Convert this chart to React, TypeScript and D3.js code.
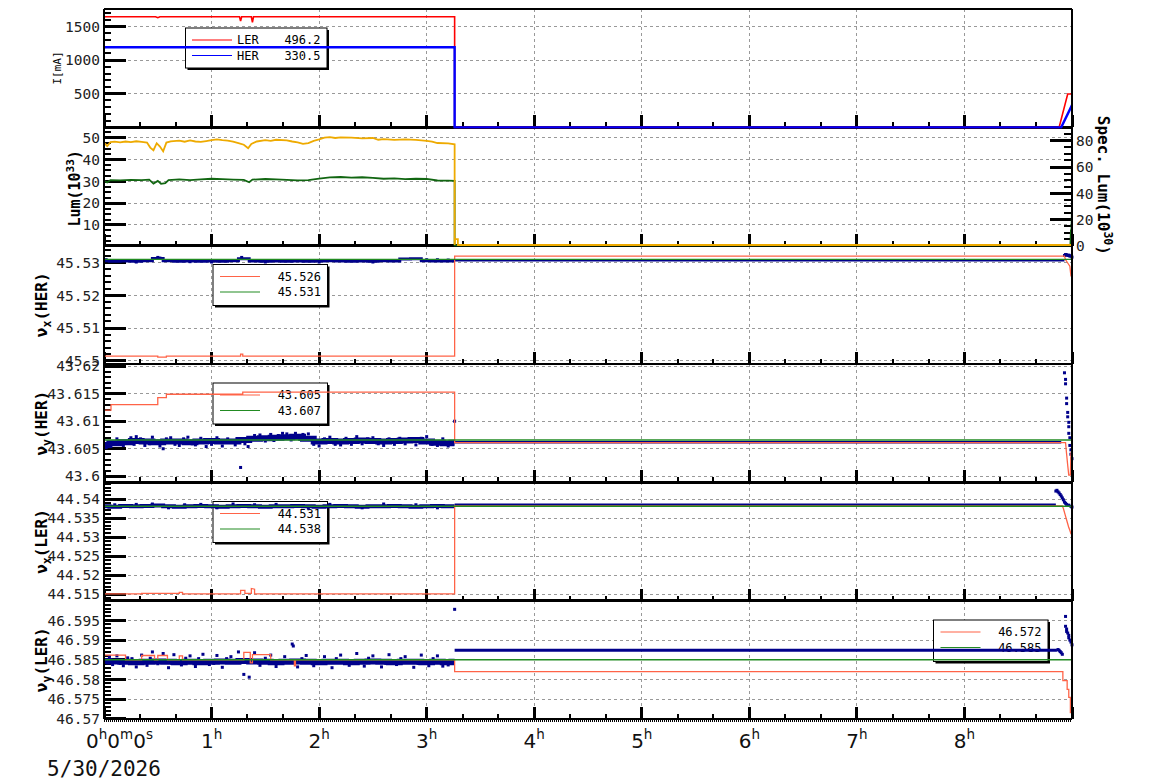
import * as d3 from 'd3';

type Pt = [number, number];

const WIDTH = 1154;
const HEIGHT = 782;
const LEFT = 104;
const RIGHT = 1072;
const TOP = 9;
const PANEL_H = 118.33;

const MONO = '"DejaVu Sans Mono", monospace';
const SANS = '"DejaVu Sans", sans-serif';

const RED = '#ff0000';
const BLUE = '#0000ff';
const LUM_ORANGE = '#eeaa00';
const LUM_GREEN = '#116611';
const TUNE_RED = '#ff6347';
const TUNE_GREEN = '#228b22';
const NAVY = '#00008b';
const GRID = '#999999';

// x axis (hours since start)
const hourTicks = [0, 1, 2, 3, 4, 5, 6, 7, 8, 9];
const hourLabels = [1, 2, 3, 4, 5, 6, 7, 8];
const startDate = '5/30/2026';

// panel 1: beam currents [h, mA]
const lerCurrent: Pt[] = [[0, 1645], [0.48, 1645], [0.5, 1630], [0.52, 1645], [1.26, 1645], [1.27, 1580], [1.28, 1645], [1.37, 1645], [1.38, 1560], [1.39, 1645], [3.26, 1645], [3.26, 0], [8.88, 0], [8.96, 496], [9, 496]];
const herCurrent: Pt[] = [[0, 1190], [3.26, 1190], [3.26, 0], [8.9, 0], [9, 330]];
const currentLegend = [['LER', '496.2'], ['HER', '330.5']];

// panel 2: luminosity
const lumTotal: Pt[] = [[0, 47.8], [0.03, 46.2], [0.06, 48], [0.1, 48.2], [0.15, 47.9], [0.2, 48.3], [0.25, 48], [0.3, 48.4], [0.35, 48.1], [0.4, 47.8], [0.43, 45.5], [0.46, 44.3], [0.49, 47.5], [0.52, 46], [0.55, 43.8], [0.58, 47.8], [0.62, 48.4], [0.7, 48.7], [0.75, 48.2], [0.8, 48.8], [0.85, 48.3], [0.9, 48.1], [0.95, 48.5], [1.0, 48.9], [1.05, 49.3], [1.1, 48.9], [1.15, 48.7], [1.2, 48.2], [1.25, 47.6], [1.3, 46.8], [1.34, 45.2], [1.37, 47.2], [1.42, 48.3], [1.5, 48.9], [1.55, 48.6], [1.6, 49.1], [1.7, 48.8], [1.75, 48.3], [1.8, 47.9], [1.85, 47.2], [1.9, 47.6], [1.95, 48.6], [2.0, 49.3], [2.05, 50.1], [2.1, 50.3], [2.15, 49.9], [2.2, 50.2], [2.3, 50.1], [2.4, 49.7], [2.5, 49.9], [2.55, 49.1], [2.6, 49.4], [2.7, 49.0], [2.8, 49.3], [2.9, 49.0], [3.0, 48.6], [3.05, 48.2], [3.1, 47.6], [3.2, 47.4], [3.26, 47.0], [3.26, 0.8], [3.265, 3.5], [3.29, 3.5], [3.29, 0.8], [9, 0.8]];
const lumSpecific: Pt[] = [[0, 30.3], [0.03, 29.5], [0.06, 30.6], [0.15, 30.5], [0.25, 30.7], [0.35, 30.6], [0.42, 30.8], [0.46, 29.0], [0.5, 30.2], [0.53, 28.9], [0.57, 29.2], [0.6, 30.6], [0.7, 30.9], [0.8, 30.6], [0.9, 30.9], [1.0, 31.2], [1.1, 31.0], [1.2, 30.8], [1.3, 30.7], [1.35, 29.6], [1.38, 30.8], [1.5, 31.1], [1.6, 30.9], [1.7, 30.7], [1.8, 30.5], [1.9, 30.6], [2.0, 31.3], [2.1, 31.8], [2.2, 32.0], [2.3, 31.7], [2.4, 31.9], [2.5, 31.6], [2.6, 31.2], [2.7, 31.4], [2.8, 31.0], [2.9, 31.2], [3.0, 31.1], [3.1, 30.4], [3.2, 30.3], [3.26, 30.2], [3.26, 0.6], [8.985, 0.6], [8.99, 7.5], [8.995, 7.5], [9, 19]];

// tune panels: shared time grid of the measured band before the abort
const bandHours = [0, 0.1, 0.2, 0.3, 0.4, 0.5, 0.6, 0.7, 0.8, 0.9, 1.0, 1.1, 1.2, 1.3, 1.4, 1.5, 1.6, 1.7, 1.8, 1.9, 2.0, 2.1, 2.2, 2.3, 2.4, 2.5, 2.6, 2.7, 2.8, 2.9, 3.0, 3.1, 3.2, 3.26];

// panel 3: nu_x HER
const vxHerSet: Pt[] = [[0, 45.5014], [0.5, 45.5014], [0.5, 45.5011], [0.58, 45.5011], [0.58, 45.5014], [1.27, 45.5014], [1.27, 45.502], [1.29, 45.502], [1.29, 45.5014], [3.26, 45.5014], [3.26, 45.532], [8.93, 45.532], [8.94, 45.5309], [8.96, 45.5299], [8.98, 45.5289], [8.99, 45.526], [9, 45.526]];
const vxHerRef = 45.531;
const vxHerBand = [45.5306, 45.5304, 45.5305, 45.5304, 45.5306, 45.5313, 45.5306, 45.5304, 45.5305, 45.5304, 45.5305, 45.5304, 45.5306, 45.5312, 45.5305, 45.5304, 45.5305, 45.5304, 45.5305, 45.5304, 45.5305, 45.5306, 45.5305, 45.5304, 45.5305, 45.5304, 45.5306, 45.5305, 45.5311, 45.5312, 45.5306, 45.5305, 45.5305, 45.5306];
const vxHerAfter: Pt[] = [[3.26, 45.5307], [8.93, 45.5307]];
const vxHerDots: Pt[] = [[0.02, 45.5309], [0.3, 45.5302], [0.5, 45.5316], [0.52, 45.5314], [0.8, 45.5303], [1.0, 45.5302], [1.28, 45.5316], [1.5, 45.5302], [2.0, 45.5302], [2.5, 45.5302], [3.0, 45.5309], [3.1, 45.5309], [3.2, 45.5308], [8.93, 45.5322], [8.94, 45.5325], [8.95, 45.5324], [8.96, 45.5322], [8.97, 45.5323], [8.98, 45.532], [8.99, 45.5321], [9.0, 45.5317]];
const vxHerLegend = ['45.526', '45.531'];

// panel 4: nu_y HER
const vyHerSet: Pt[] = [[0, 43.612], [0.065, 43.612], [0.065, 43.613], [0.5, 43.613], [0.5, 43.6143], [0.58, 43.6143], [0.58, 43.6149], [1.29, 43.6149], [1.29, 43.6153], [3.26, 43.6153], [3.26, 43.6061], [8.94, 43.6061], [8.95, 43.604], [8.96, 43.602], [8.97, 43.6002], [8.985, 43.6002], [8.99, 43.604], [9, 43.605]];
const vyHerRef = 43.6066;
const vyHerBand = [43.6057, 43.606, 43.6062, 43.6064, 43.6063, 43.6062, 43.6063, 43.6063, 43.6062, 43.6063, 43.6064, 43.6063, 43.6063, 43.6066, 43.6068, 43.6069, 43.607, 43.6071, 43.6072, 43.6068, 43.6063, 43.6064, 43.6063, 43.6064, 43.6065, 43.6064, 43.6063, 43.6064, 43.6065, 43.6066, 43.6063, 43.6061, 43.606, 43.6061];
const vyHerAfter: Pt[] = [[3.26, 43.6062], [8.9, 43.6062]];
const vyHerDots: Pt[] = [[0.02, 43.6052], [0.05, 43.6054], [0.08, 43.6058], [0.12, 43.6068], [0.15, 43.6059], [0.18, 43.6056], [0.25, 43.607], [0.28, 43.6058], [0.3, 43.6072], [0.34, 43.6068], [0.38, 43.6056], [0.42, 43.6059], [0.45, 43.6071], [0.52, 43.6055], [0.55, 43.605], [0.58, 43.6068], [0.62, 43.607], [0.66, 43.6058], [0.7, 43.6056], [0.74, 43.6068], [0.78, 43.6071], [0.82, 43.6059], [0.85, 43.6057], [0.9, 43.6069], [0.95, 43.6054], [1.0, 43.6058], [1.05, 43.607], [1.1, 43.6055], [1.15, 43.6068], [1.22, 43.6057], [1.27, 43.6016], [1.31, 43.6059], [1.34, 43.6054], [1.4, 43.6074], [1.45, 43.6075], [1.5, 43.6064], [1.55, 43.6076], [1.58, 43.6065], [1.62, 43.6074], [1.66, 43.6078], [1.7, 43.6077], [1.74, 43.6066], [1.78, 43.6078], [1.82, 43.6067], [1.85, 43.6076], [1.9, 43.6077], [1.95, 43.6058], [2.0, 43.6055], [2.05, 43.6068], [2.1, 43.6071], [2.15, 43.6058], [2.2, 43.6057], [2.25, 43.6069], [2.3, 43.6058], [2.35, 43.6072], [2.4, 43.6059], [2.45, 43.6068], [2.5, 43.607], [2.55, 43.6059], [2.6, 43.6056], [2.65, 43.6068], [2.7, 43.6058], [2.75, 43.6069], [2.8, 43.6059], [2.85, 43.6068], [2.9, 43.6057], [2.95, 43.6069], [3.0, 43.6072], [3.05, 43.6058], [3.1, 43.6056], [3.15, 43.6068], [3.2, 43.6055], [3.26, 43.61], [8.93, 43.6188], [8.94, 43.6176], [8.94, 43.6168], [8.95, 43.6142], [8.95, 43.6132], [8.96, 43.6116], [8.96, 43.6108], [8.97, 43.6098], [8.97, 43.609], [8.97, 43.6078], [8.98, 43.607], [8.98, 43.6056], [8.99, 43.6048], [8.99, 43.604], [9.0, 43.6032]];
const vyHerLegend = ['43.605', '43.607'];

// panel 5: nu_x LER
const vxLerSet: Pt[] = [[0, 44.5151], [0.35, 44.5151], [0.35, 44.5152], [0.7, 44.5152], [0.7, 44.5155], [0.73, 44.5155], [0.73, 44.5151], [1.27, 44.5151], [1.27, 44.516], [1.31, 44.516], [1.31, 44.5152], [1.37, 44.5152], [1.37, 44.5165], [1.4, 44.5163], [1.4, 44.5151], [3.26, 44.5151], [3.26, 44.5382], [8.91, 44.5382], [8.92, 44.5375], [8.93, 44.5365], [8.95, 44.5345], [8.96, 44.5335], [8.97, 44.5325], [8.98, 44.5318], [8.99, 44.5309], [9, 44.5308]];
const vxLerRef = 44.5381;
const vxLerBand = [44.5381, 44.538, 44.5382, 44.5381, 44.5382, 44.5383, 44.5381, 44.538, 44.5381, 44.5382, 44.5381, 44.538, 44.5381, 44.5382, 44.5381, 44.538, 44.5381, 44.5381, 44.5382, 44.5381, 44.538, 44.5381, 44.5382, 44.5381, 44.538, 44.5381, 44.5381, 44.5382, 44.5381, 44.538, 44.5381, 44.5382, 44.5381, 44.5381];
const vxLerAfter: Pt[] = [[3.26, 44.5385], [8.85, 44.5385]];
const vxLerDots: Pt[] = [[0.1, 44.5385], [0.3, 44.5386], [0.45, 44.5387], [0.6, 44.5377], [0.75, 44.5385], [0.9, 44.5386], [1.05, 44.5377], [1.2, 44.5387], [1.4, 44.5385], [1.6, 44.5386], [1.9, 44.5376], [2.1, 44.5386], [2.4, 44.5377], [2.6, 44.5387], [2.9, 44.5385], [3.1, 44.5377], [8.85, 44.5421], [8.86, 44.5423], [8.87, 44.5419], [8.88, 44.5416], [8.89, 44.5412], [8.9, 44.5408], [8.91, 44.5403], [8.92, 44.5398], [8.93, 44.5392], [8.94, 44.5389], [8.95, 44.5386], [8.97, 44.5384], [8.99, 44.5381], [9.0, 44.5379]];
const vxLerLegend = ['44.531', '44.538'];

// panel 6: nu_y LER
const vyLerSet: Pt[] = [[0, 46.5862], [0.2, 46.5862], [0.2, 46.585], [0.35, 46.585], [0.35, 46.5861], [0.47, 46.5861], [0.47, 46.585], [0.5, 46.585], [0.5, 46.5861], [0.59, 46.5861], [0.59, 46.585], [0.7, 46.585], [0.7, 46.586], [0.73, 46.586], [0.73, 46.585], [1.3, 46.585], [1.3, 46.5869], [1.36, 46.5869], [1.36, 46.5842], [1.38, 46.5842], [1.38, 46.5863], [1.55, 46.5863], [1.55, 46.585], [1.77, 46.585], [1.77, 46.5835], [1.78, 46.5835], [1.78, 46.585], [3.26, 46.585], [3.26, 46.582], [8.915, 46.582], [8.915, 46.5797], [8.955, 46.5797], [8.955, 46.5775], [8.97, 46.5775], [8.97, 46.5755], [8.985, 46.5755], [8.985, 46.5716], [9, 46.5716]];
const vyLerRef = 46.585;
const vyLerBand = [46.5847, 46.5846, 46.5845, 46.5844, 46.5845, 46.5846, 46.5845, 46.5844, 46.5845, 46.5844, 46.5845, 46.5846, 46.5845, 46.5847, 46.5846, 46.5845, 46.5844, 46.5845, 46.5846, 46.5845, 46.5844, 46.5845, 46.5845, 46.5844, 46.5845, 46.5846, 46.5845, 46.5844, 46.5845, 46.5845, 46.5844, 46.5845, 46.5844, 46.5845];
const vyLerAfter: Pt[] = [[3.26, 46.5874], [8.86, 46.5874]];
const vyLerDots: Pt[] = [[0.05, 46.5858], [0.08, 46.5838], [0.12, 46.586], [0.15, 46.5841], [0.18, 46.5835], [0.22, 46.5855], [0.26, 46.5853], [0.3, 46.5832], [0.35, 46.5862], [0.4, 46.5836], [0.43, 46.5854], [0.45, 46.587], [0.5, 46.584], [0.55, 46.5866], [0.6, 46.583], [0.63, 46.5841], [0.65, 46.5863], [0.72, 46.5837], [0.76, 46.5854], [0.8, 46.586], [0.85, 46.5833], [0.88, 46.5853], [0.92, 46.5864], [0.98, 46.5838], [1.02, 46.5841], [1.05, 46.5861], [1.1, 46.5831], [1.14, 46.5853], [1.18, 46.5858], [1.25, 46.587], [1.3, 46.5813], [1.35, 46.5806], [1.4, 46.5868], [1.45, 46.5836], [1.5, 46.5854], [1.55, 46.5862], [1.6, 46.5833], [1.64, 46.5841], [1.68, 46.5858], [1.75, 46.589], [1.76, 46.5885], [1.8, 46.5832], [1.84, 46.5853], [1.88, 46.5861], [1.95, 46.5835], [2.0, 46.5841], [2.05, 46.5858], [2.12, 46.583], [2.16, 46.5853], [2.2, 46.5862], [2.28, 46.5836], [2.32, 46.5841], [2.35, 46.5866], [2.42, 46.5834], [2.46, 46.5854], [2.5, 46.586], [2.58, 46.5832], [2.62, 46.5841], [2.65, 46.5863], [2.72, 46.5838], [2.76, 46.5853], [2.8, 46.5858], [2.88, 46.5831], [2.92, 46.5841], [2.95, 46.5862], [3.02, 46.5835], [3.06, 46.5853], [3.1, 46.586], [3.15, 46.5834], [3.2, 46.5837], [3.26, 46.5978], [8.87, 46.5876], [8.88, 46.5874], [8.89, 46.5871], [8.9, 46.5868], [8.91, 46.5864], [8.94, 46.596], [8.94, 46.5935], [8.95, 46.5928], [8.95, 46.5922], [8.96, 46.5918], [8.97, 46.5912], [8.97, 46.5906], [8.98, 46.59], [8.99, 46.5895], [9.0, 46.5888]];
const vyLerLegend = ['46.572', '46.585'];

const x = d3.scaleLinear().domain([0, 9]).range([LEFT, RIGHT]);
const minorHours = d3.range(1, 27).filter((i) => i % 3 !== 0).map((i) => i / 3);

const panelTop = (i: number) => TOP + i * PANEL_H;

function ticksBetween(domain: number[], step: number) {
  const first = Math.ceil(domain[0] / step - 1e-9);
  const last = Math.floor(domain[1] / step + 1e-9);
  return d3.range(first, last + 1).map((k) => k * step);
}

const fmtTune = (v: number) => String(+v.toFixed(3));

type Box = { x: number; y: number; w: number; h: number };

function Legend({ box, rows, sampleX, labelX }: { box: Box; rows: { color: string; label?: string; value: string }[]; sampleX: number; labelX?: number }) {
  const offsets = [12, 27.5];
  return (
    <g>
      <rect x={box.x + 2} y={box.y + 2} width={box.w} height={box.h} fill="#000" />
      <rect x={box.x} y={box.y} width={box.w} height={box.h} fill="#fff" stroke="#000" strokeWidth={1} />
      {rows.map((r, i) => {
        const cy = box.y + offsets[i];
        return (
          <g key={i}>
            <line x1={sampleX} x2={sampleX + 40} y1={cy} y2={cy} stroke={r.color} strokeWidth={1.2} />
            {r.label && (
              <text x={labelX} y={cy} dy="0.35em" fontSize={12} fontFamily={MONO}>{r.label}</text>
            )}
            <text x={box.x + box.w - 6.5} y={cy} dy="0.35em" fontSize={12} fontFamily={MONO} textAnchor="end">{r.value}</text>
          </g>
        );
      })}
    </g>
  );
}

function TunePanel({ index, domain, set, ref0, band, after, afterWidth, dots, legend, legendBox, bandWidth }: any) {
  const top = panelTop(index);
  const y = d3.scaleLinear().domain(domain).range([top + PANEL_H, top]);
  const line = d3.line<Pt>().x((d) => x(d[0])).y((d) => y(d[1]));
  const bandLine = d3.line<number>().x((_, i) => x(bandHours[i])).y((d) => y(d)).curve(d3.curveStep);
  return (
    <g clipPath={`url(#clip${index})`}>
      <Legend box={legendBox} sampleX={legendBox.x + 7} rows={[{ color: TUNE_RED, value: legend[0] }, { color: TUNE_GREEN, value: legend[1] }]} />
      <path d={bandLine(band) || ''} fill="none" stroke={NAVY} strokeWidth={bandWidth} />
      {dots.map((d: Pt, i: number) => (
        <rect key={i} x={x(d[0]) - 1.5} y={y(d[1]) - 1.5} width={3} height={3} fill={NAVY} />
      ))}
      <path d={line(after) || ''} fill="none" stroke={NAVY} strokeWidth={afterWidth} />
      <path d={line(set) || ''} fill="none" stroke={TUNE_RED} strokeWidth={1.3} />
      <line x1={x(0)} x2={x(9)} y1={y(ref0)} y2={y(ref0)} stroke={TUNE_GREEN} strokeWidth={1.4} />
    </g>
  );
}

function Axes({ index, domain, majors, minorStep, fmt }: any) {
  const top = panelTop(index);
  const bottom = top + PANEL_H;
  const y = d3.scaleLinear().domain(domain).range([bottom, top]);
  return (
    <g shapeRendering="crispEdges">
      {ticksBetween(domain, minorStep).map((v, i) => (
        <line key={'m' + i} x1={LEFT} x2={LEFT + 7} y1={y(v)} y2={y(v)} stroke="#000" strokeWidth={2} />
      ))}
      {majors.map((v: number) => (
        <g key={v}>
          <line x1={LEFT} x2={LEFT + 22} y1={y(v)} y2={y(v)} stroke="#000" strokeWidth={3} />
          <text x={LEFT - 4} y={y(v)} dy="0.36em" textAnchor="end" fontSize={14.5} fontFamily={MONO} fill="#222">{fmt(v)}</text>
        </g>
      ))}
      {minorHours.map((h) => (
        <line key={'xm' + h} x1={x(h)} x2={x(h)} y1={bottom} y2={bottom - 5} stroke="#000" strokeWidth={2} />
      ))}
      {hourTicks.map((h) => (
        <line key={'xM' + h} x1={x(h)} x2={x(h)} y1={bottom} y2={bottom - 12} stroke="#000" strokeWidth={3} />
      ))}
      <line x1={LEFT} x2={RIGHT} y1={bottom} y2={bottom} stroke="#000" strokeWidth={2.5} />
    </g>
  );
}

function Grid({ index, domain, majors }: any) {
  const top = panelTop(index);
  const y = d3.scaleLinear().domain(domain).range([top + PANEL_H, top]);
  return (
    <g stroke={GRID} strokeWidth={1} strokeDasharray="3,3" shapeRendering="crispEdges">
      {majors.map((v: number) => (
        <line key={'h' + v} x1={LEFT} x2={RIGHT} y1={y(v)} y2={y(v)} />
      ))}
      {hourLabels.map((h) => (
        <line key={'v' + h} x1={x(h)} x2={x(h)} y1={top} y2={top + PANEL_H} />
      ))}
    </g>
  );
}

const curDomain = [0, 1760];
const curMajors = [500, 1000, 1500];
const lumDomain = [0.5, 54.8];
const lumMajors = [10, 20, 30, 40, 50];
const specDomain = [0.2, 90.2];
const specMajors = [0, 20, 40, 60, 80];

const tunePanels = [
  { index: 2, domain: [45.499, 45.5352], majors: [45.5, 45.51, 45.52, 45.53], minorStep: 0.002, set: vxHerSet, ref0: vxHerRef, band: vxHerBand, after: vxHerAfter, afterWidth: 2.5, dots: vxHerDots, legend: vxHerLegend, legendBox: { x: 213, y: 264.5, w: 114.5, h: 41 }, bandWidth: 3, title: ['x', 'HER'] },
  { index: 3, domain: [43.5989, 43.6204], majors: [43.6, 43.605, 43.61, 43.615, 43.62], minorStep: 0.001, set: vyHerSet, ref0: vyHerRef, band: vyHerBand, after: vyHerAfter, afterWidth: 2.5, dots: vyHerDots, legend: vyHerLegend, legendBox: { x: 213, y: 383, w: 114.5, h: 41 }, bandWidth: 6, title: ['y', 'HER'] },
  { index: 4, domain: [44.5133, 44.5444], majors: [44.515, 44.52, 44.525, 44.53, 44.535, 44.54], minorStep: 0.001, set: vxLerSet, ref0: vxLerRef, band: vxLerBand, after: vxLerAfter, afterWidth: 2.5, dots: vxLerDots, legend: vxLerLegend, legendBox: { x: 213, y: 501.5, w: 114.5, h: 41 }, bandWidth: 4, title: ['x', 'LER'] },
  { index: 5, domain: [46.57, 46.6], majors: [46.57, 46.575, 46.58, 46.585, 46.59, 46.595], minorStep: 0.001, set: vyLerSet, ref0: vyLerRef, band: vyLerBand, after: vyLerAfter, afterWidth: 3, dots: vyLerDots, legend: vyLerLegend, legendBox: { x: 933.5, y: 620, w: 114.5, h: 41.5 }, bandWidth: 6, title: ['y', 'LER'] },
];

export default function App() {
  const yCur = d3.scaleLinear().domain(curDomain).range([panelTop(0) + PANEL_H, panelTop(0)]);
  const yLum = d3.scaleLinear().domain(lumDomain).range([panelTop(1) + PANEL_H, panelTop(1)]);
  const ySpec = d3.scaleLinear().domain(specDomain).range([panelTop(1) + PANEL_H, panelTop(1)]);
  const curLine = d3.line<Pt>().x((d) => x(d[0])).y((d) => yCur(d[1]));
  const lumLine = d3.line<Pt>().x((d) => x(d[0])).y((d) => yLum(d[1]));
  const bottom = panelTop(6);

  return (
    <svg width={WIDTH} height={HEIGHT} style={{ position: 'absolute', left: 0, top: 0, background: '#fff', display: 'block' }}>
      <defs>
        {d3.range(6).map((i) => (
          <clipPath id={`clip${i}`} key={i}>
            <rect x={LEFT} y={panelTop(i) - 1.5} width={RIGHT - LEFT + 3} height={PANEL_H + 3} />
          </clipPath>
        ))}
      </defs>
      <rect x={0} y={0} width={WIDTH} height={HEIGHT} fill="#fff" />

      <Grid index={0} domain={curDomain} majors={curMajors} />
      <Grid index={1} domain={lumDomain} majors={lumMajors} />
      {tunePanels.map((p) => (
        <Grid key={p.index} index={p.index} domain={p.domain} majors={p.majors} />
      ))}

      {/* axes first, so flat data at a panel edge stays visible */}
      <Axes index={0} domain={curDomain} majors={curMajors} minorStep={100} fmt={(v: number) => String(v)} />
      <Axes index={1} domain={lumDomain} majors={lumMajors} minorStep={2.5} fmt={(v: number) => String(v)} />
      {tunePanels.map((p) => (
        <Axes key={p.index} index={p.index} domain={p.domain} majors={p.majors} minorStep={p.minorStep} fmt={fmtTune} />
      ))}

      {/* right axis of panel 2 */}
      <g shapeRendering="crispEdges">
        {ticksBetween(specDomain, 5).map((v) => (
          <line key={'sm' + v} x1={RIGHT} x2={RIGHT - 8} y1={ySpec(v)} y2={ySpec(v)} stroke="#000" strokeWidth={2} />
        ))}
        {specMajors.map((v) => (
          <g key={'s' + v}>
            <line x1={RIGHT} x2={RIGHT - 22} y1={ySpec(v)} y2={ySpec(v)} stroke="#000" strokeWidth={3} />
            <text x={RIGHT + 4} y={ySpec(v)} dy="0.36em" fontSize={14.5} fontFamily={MONO} fill="#222">{v}</text>
          </g>
        ))}
      </g>

      {/* panel 1: currents */}
      <g clipPath="url(#clip0)">
        <Legend box={{ x: 185.5, y: 28, w: 141.5, h: 40 }} sampleX={192} labelX={237}
          rows={[{ color: RED, label: currentLegend[0][0], value: currentLegend[0][1] }, { color: BLUE, label: currentLegend[1][0], value: currentLegend[1][1] }]} />
        <path d={curLine(lerCurrent) || ''} fill="none" stroke={RED} strokeWidth={1.6} />
        <path d={curLine(herCurrent) || ''} fill="none" stroke={BLUE} strokeWidth={2.4} />
      </g>

      {/* panel 2: luminosity */}
      <g clipPath="url(#clip1)">
        <path d={lumLine(lumSpecific) || ''} fill="none" stroke={LUM_GREEN} strokeWidth={1.8} />
        <path d={lumLine(lumTotal) || ''} fill="none" stroke={LUM_ORANGE} strokeWidth={1.8} />
      </g>

      {tunePanels.map((p) => (
        <TunePanel key={p.index} {...p} />
      ))}

      {/* frame */}
      <g shapeRendering="crispEdges">
        <line x1={LEFT} x2={RIGHT} y1={TOP} y2={TOP} stroke="#000" strokeWidth={1.5} />
        <line x1={LEFT} x2={LEFT} y1={TOP} y2={bottom} stroke="#000" strokeWidth={2.5} />
        <line x1={RIGHT} x2={RIGHT} y1={TOP} y2={bottom} stroke="#000" strokeWidth={1.5} />
        <line x1={LEFT} x2={RIGHT} y1={bottom} y2={bottom} stroke="#000" strokeWidth={2.5} />
        <line x1={LEFT} x2={RIGHT} y1={bottom + 2} y2={bottom + 2} stroke="#000" strokeWidth={1.5} strokeDasharray="1,1" />
      </g>

      {/* axis titles */}
      <text transform={`translate(57.5,${panelTop(0) + 59}) rotate(-90)`} textAnchor="middle" dy="0.35em" fontSize={11} fontFamily={MONO}>I[mA]</text>
      <text transform={`translate(75,${panelTop(1) + 61}) rotate(-90)`} textAnchor="middle" dy="0.35em" fontSize={15} fontWeight="bold" fontFamily={MONO}>
        Lum(10<tspan fontSize={11} dy={-6}>33</tspan><tspan dy={6}>)</tspan>
      </text>
      <text transform={`translate(1104,${panelTop(1) + 58}) rotate(90)`} textAnchor="middle" dy="0.35em" fontSize={16} fontWeight="bold" fontFamily={MONO}>
        Spec. Lum(10<tspan fontSize={11.5} dy={-6}>30</tspan><tspan dy={6}>)</tspan>
      </text>
      {tunePanels.map((p) => (
        <text key={'t' + p.index} transform={`translate(41,${panelTop(p.index) + PANEL_H / 2}) rotate(-90)`} textAnchor="middle" dy="0.35em" fontSize={16} fontWeight="bold" fontFamily={MONO}>
          ν<tspan fontSize={11.5} dy={4}>{p.title[0]}</tspan><tspan dy={-4}>({p.title[1]})</tspan>
        </text>
      ))}

      {/* time axis labels */}
      <text x={x(0) - 18} y={748} fontSize={20} fontFamily={SANS} fill="#111">
        0<tspan fontSize={13.5} dy={-9}>h</tspan><tspan dy={9}>0</tspan><tspan fontSize={13.5} dy={-9}>m</tspan><tspan dy={9}>0</tspan><tspan fontSize={13.5} dy={-9}>s</tspan>
      </text>
      {hourLabels.map((h) => (
        <text key={'hl' + h} x={x(h)} y={748} textAnchor="middle" fontSize={20} fontFamily={SANS} fill="#111">
          {h}<tspan fontSize={13.5} dy={-9}>h</tspan>
        </text>
      ))}
      <text x={x(0)} y={776} textAnchor="middle" fontSize={21} fontFamily={MONO} fill="#111">{startDate}</text>
    </svg>
  );
}
